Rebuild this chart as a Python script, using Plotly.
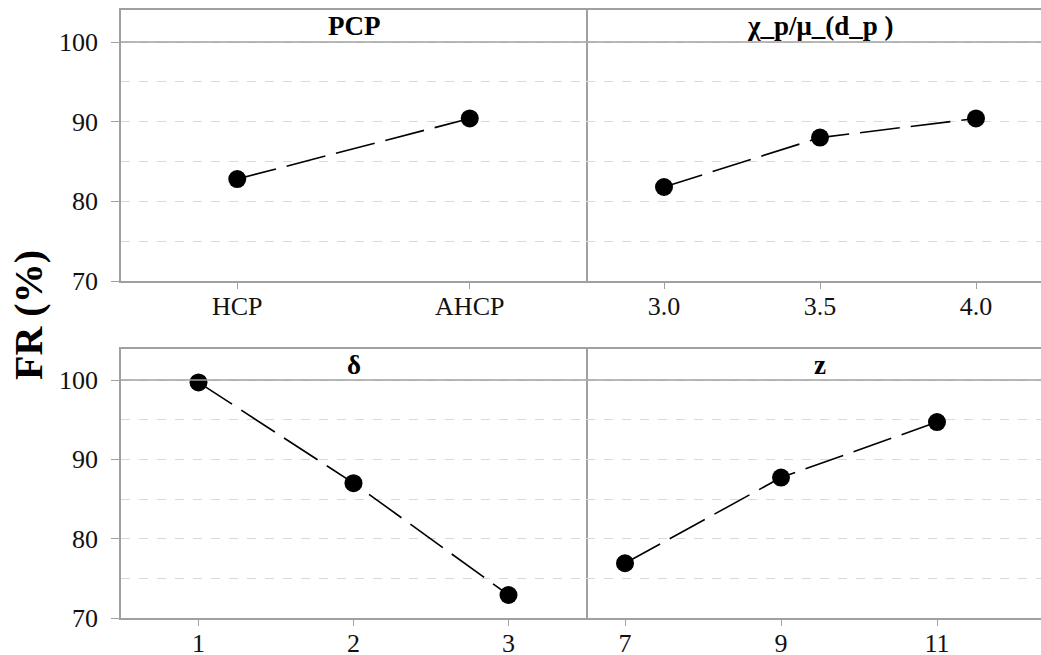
import plotly.graph_objects as go

pcp_levels = ["HCP", "AHCP"]
pcp_fr = [82.8, 90.4]
chi_levels = [3.0, 3.5, 4.0]
chi_fr = [81.8, 88.0, 90.4]
delta_levels = [1, 2, 3]
delta_fr = [99.7, 87.0, 72.9]
z_levels = [7, 9, 11]
z_fr = [76.9, 87.7, 94.7]
panel_titles = ["PCP", "χ_p/μ_(d_p )", "δ", "z"]
y_ticks = [70, 80, 90, 100]

W, H = 1041, 655
fig = go.Figure()

line = dict(color="black", width=1.6, dash="40px,11px")
marker = dict(color="black", size=18)

fig.add_trace(go.Scatter(x=pcp_levels, y=pcp_fr, xaxis="x", yaxis="y", mode="lines+markers", line=line, marker=marker))
fig.add_trace(go.Scatter(x=chi_levels, y=chi_fr, xaxis="x2", yaxis="y2", mode="lines+markers", line=line, marker=marker))
fig.add_trace(go.Scatter(x=delta_levels, y=delta_fr, xaxis="x3", yaxis="y3", mode="lines+markers", line=line, marker=marker))
fig.add_trace(go.Scatter(x=z_levels, y=z_fr, xaxis="x4", yaxis="y4", mode="lines+markers", line=line, marker=marker))

xl, xm, xr = 121 / W, 586 / W, 1.0
r1 = [1 - 281 / H, 1 - 10 / H]
r2 = [1 - 618 / H, 1 - 349 / H]

frame = "#a0a0a0"
SERIF = "Liberation Serif, Times New Roman, serif"
tickfont = dict(family=SERIF, size=26, color="#111111")

def xaxis(dom, anchor, rng, cat=False):
    d = dict(domain=dom, anchor=anchor, range=rng, showline=True, linecolor=frame, linewidth=1.5,
             mirror=True, ticks="outside", ticklen=6, tickcolor=frame, tickfont=tickfont,
             ticklabelstandoff=-5, showgrid=False, zeroline=False, fixedrange=True)
    if cat:
        d["type"] = "category"
    return d

def yaxis(dom, anchor, rng, labels=True):
    return dict(domain=dom, anchor=anchor, range=rng, showline=labels, linecolor=frame, linewidth=1.5,
                mirror=True, ticks="outside" if labels else "", ticklen=8, tickcolor=frame,
                tickvals=y_ticks, showticklabels=labels, tickfont=tickfont, ticklabelstandoff=8,
                showgrid=True, gridcolor="#d9d9d9", griddash="dash", gridwidth=1.2,
                minor=dict(tickvals=[75, 85, 95], showgrid=True, gridcolor="#d9d9d9", griddash="dash", gridwidth=1.2, ticks=""),
                zeroline=False, fixedrange=True)

top1 = 100 + 32 / ((281 - 42) / 30)
top2 = 100 + 31 / ((618 - 380) / 30)

fig.update_layout(
    width=W, height=H, margin=dict(l=0, r=0, t=0, b=0, autoexpand=False),
    font=dict(family=SERIF),
    plot_bgcolor="white", paper_bgcolor="white", showlegend=False,
    xaxis=xaxis([xl, xm], "y", [-0.5, 1.5], cat=True),
    yaxis=yaxis(r1, "x", [70, top1]),
    xaxis2=xaxis([xm, xr], "y2", [2.75, 2.75 + 455 / 312]),
    yaxis2=yaxis(r1, "x2", [70, top1], labels=False),
    xaxis3=xaxis([xl, xm], "y3", [0.5, 3.5]),
    yaxis3=yaxis(r2, "x3", [70, top2]),
    xaxis4=xaxis([xm, xr], "y4", [6.5, 6.5 + 455 / 78]),
    yaxis4=yaxis(r2, "x4", [70, top2], labels=False),
)
fig.update_layout(xaxis2=dict(tickvals=chi_levels, ticktext=["3.0", "3.5", "4.0"]),
                  xaxis3=dict(tickvals=delta_levels),
                  xaxis4=dict(tickvals=z_levels))

# strip separator lines at 100 (solid)
for xa, ya in [("x", "y"), ("x2", "y2"), ("x3", "y3"), ("x4", "y4")]:
    fig.add_shape(type="line", xref=f"{xa} domain", yref=ya, x0=0, x1=1, y0=100, y1=100,
                  line=dict(color=frame, width=1.5), layer="above")

# panel titles
title_font = dict(family=SERIF, size=27, color="black")
for t, xa, ya, top in [(panel_titles[0], "x", "y", top1), (panel_titles[1], "x2", "y2", top1),
                       (panel_titles[2], "x3", "y3", top2), (panel_titles[3], "x4", "y4", top2)]:
    fig.add_annotation(text=f"<b>{t}</b>", xref=f"{xa} domain", yref=ya, x=0.5 if xa in ("x", "x3") else 234 / 455,
                       y=(100 + top) / 2, showarrow=False, font=title_font, yanchor="middle")

fig.add_annotation(text="<b>FR (%)</b>", xref="paper", yref="paper", x=28 / W, y=1 - 315 / H,
                   showarrow=False, textangle=-90, font=dict(family=SERIF, size=40, color="black"),
                   xanchor="center", yanchor="middle")

fig.write_html("out.html", config=dict(displayModeBar=False),
               post_script="document.body.style.margin='0';document.body.style.overflow='hidden';")
